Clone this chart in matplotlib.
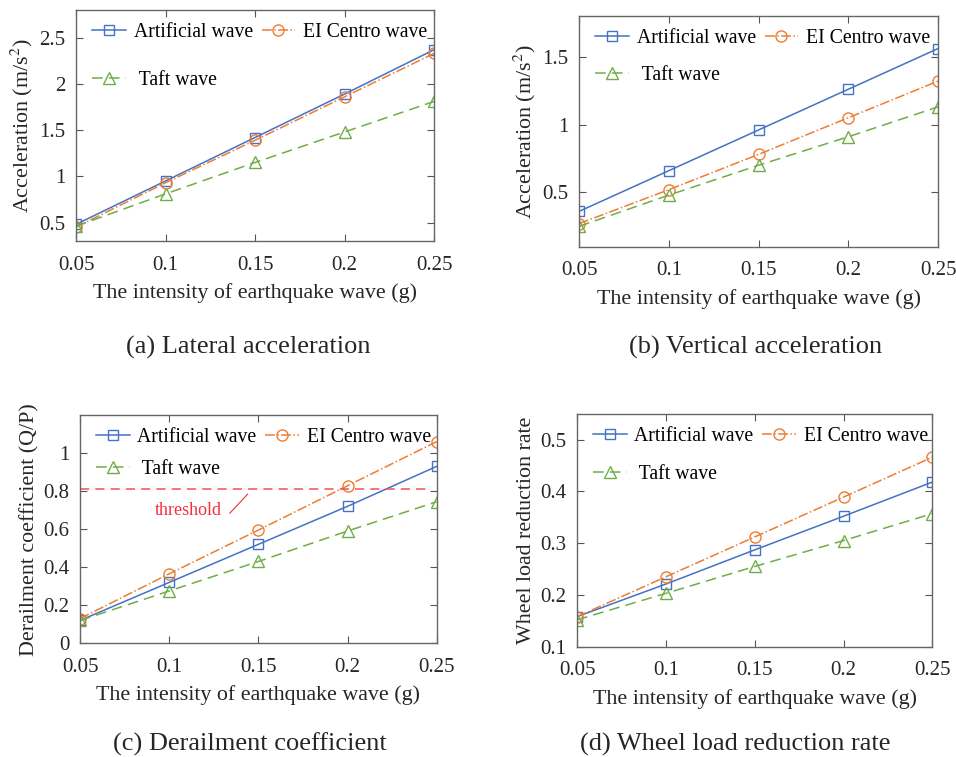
import numpy as np
import matplotlib
matplotlib.use("Agg")
import matplotlib.pyplot as plt

# intensity of earthquake wave (g)
intensity = [0.05, 0.1, 0.15, 0.2, 0.25]

# (a) lateral acceleration
lat_art = [0.48, 0.95, 1.42, 1.89, 2.37]
lat_ec = [0.45, 0.93, 1.39, 1.86, 2.33]
lat_taft = [0.46, 0.81, 1.15, 1.48, 1.81]

# (b) vertical acceleration
ver_art = [0.36, 0.66, 0.96, 1.26, 1.56]
ver_ec = [0.27, 0.52, 0.78, 1.05, 1.32]
ver_taft = [0.25, 0.48, 0.70, 0.91, 1.13]

# (c) derailment coefficient
der_art = [0.12, 0.32, 0.52, 0.72, 0.93]
der_ec = [0.13, 0.365, 0.595, 0.828, 1.06]
der_taft = [0.12, 0.275, 0.43, 0.59, 0.744]
threshold = 0.81

# (d) wheel load reduction rate
wl_art = [0.158, 0.221, 0.287, 0.352, 0.418]
wl_ec = [0.158, 0.235, 0.312, 0.389, 0.466]
wl_taft = [0.152, 0.203, 0.255, 0.305, 0.357]

plt.rcParams['font.family'] = ['Liberation Serif', 'DejaVu Serif']
plt.rcParams['mathtext.fontset'] = 'stix'
plt.rcParams['font.size'] = 15

c_art = '#4472C4'
c_ec = '#ED7D31'
c_taft = '#70AD47'

fig = plt.figure(figsize=(9.56, 7.57), dpi=100)

panels = [
    ([0.0795, 0.6816, 0.3745, 0.3052], lat_art, lat_ec, lat_taft,
     (0.3, 2.8), [0.5, 1, 1.5, 2, 2.5], 'Acceleration (m/s$^{2}$)',
     '(a) Lateral acceleration', 1.45, (248, 347)),
    ([0.6057, 0.6741, 0.3755, 0.3048], ver_art, ver_ec, ver_taft,
     (0.1, 1.8), [0.5, 1, 1.5], 'Acceleration (m/s$^{2}$)',
     '(b) Vertical acceleration', 0.9, (756, 347)),
    ([0.0837, 0.1502, 0.3731, 0.3016], der_art, der_ec, der_taft,
     (0, 1.2), [0, 0.2, 0.4, 0.6, 0.8, 1], 'Derailment coefficient (Q/P)',
     '(c) Derailment coefficient', 0.65, (250, 744)),
    ([0.6036, 0.1457, 0.3717, 0.3078], wl_art, wl_ec, wl_taft,
     (0.1, 0.55), [0.1, 0.2, 0.3, 0.4, 0.5], 'Wheel load reduction rate',
     '(d) Wheel load reduction rate', 0.95, (735, 744)),
]

for i, (pos, a, e, t, ylim, yt, ylab, cap, lspace, cxy) in enumerate(panels):
    ax = fig.add_axes(pos)
    h1, = ax.plot(intensity, a, '-', color=c_art, lw=1.1, marker='s', ms=7,
                  mfc='none', mec=c_art, label='Artificial wave')
    h2, = ax.plot(intensity, e, '-.', color=c_ec, lw=1.1, marker='o', ms=8,
                  mfc='none', mec=c_ec, label='EI Centro wave')
    h3, = ax.plot(intensity, t, '--', color=c_taft, lw=1.1, marker='^', ms=8,
                  mfc='none', mec=c_taft, label=' Taft wave', dashes=(7, 4))
    if i == 2:
        ax.axhline(threshold, color='#F0505A', lw=1.1, dashes=(6, 4),
                   xmax=0.985)
        ax.text(0.111, 0.70, 'threshold', color='#F0303C', fontsize=13,
                ha='center', va='center')
        ax.plot([0.134, 0.144], [0.684, 0.784], color='#F0303C', lw=0.8)
    ax.set_xlim(0.05, 0.25)
    ax.set_ylim(*ylim)
    ax.set_xticks(intensity)
    ax.set_xticklabels(['%g' % v for v in intensity])
    ax.set_yticks(yt)
    ax.set_yticklabels(['%g' % v for v in yt])
    ax.tick_params(direction='in', top=True, right=True, length=5,
                   width=0.8, colors='#555555', labelcolor='#262626',
                   labelsize=15)
    ax.tick_params(axis='x', pad=10.5)
    ax.tick_params(axis='y', pad=7.5)
    for sp in ax.spines.values():
        sp.set_color('#666666')
        sp.set_linewidth(1.0)
    ax.set_xlabel('The intensity of earthquake wave (g)', fontsize=15.8,
                  color='#262626', labelpad=6)
    ax.set_ylabel(ylab, fontsize=15.8, color='#262626', labelpad=3)
    ax.legend([h1, h3, h2], ['Artificial wave', ' Taft wave', 'EI Centro wave'],
              loc='upper left', ncol=2, frameon=False, fontsize=14.2,
              handlelength=1.7, handletextpad=0.4, columnspacing=0.45,
              labelspacing=lspace, borderaxespad=0.0, borderpad=0.0,
              bbox_to_anchor=(0.045, 0.943))
    fig.text(cxy[0] / 956, 1 - cxy[1] / 757, cap, ha='center', va='center',
             fontsize=19, color='#262626')

fig.savefig('out.png', dpi=100)
